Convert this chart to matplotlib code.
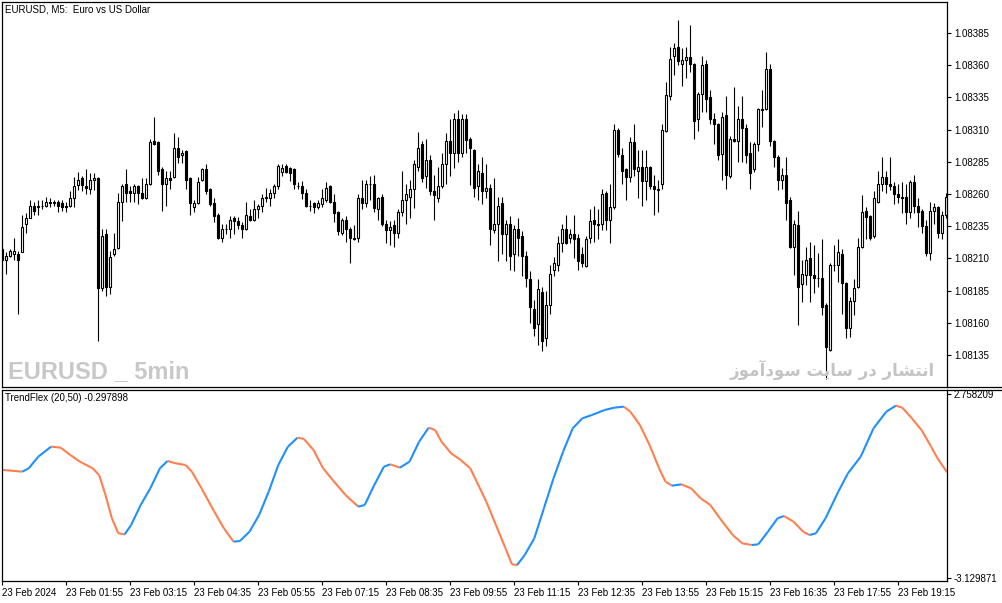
import numpy as np
import matplotlib
matplotlib.use("Agg")
import matplotlib.pyplot as plt
from matplotlib.lines import Line2D
from matplotlib.collections import LineCollection

plt.rcParams['font.family'] = ['Liberation Sans', 'DejaVu Sans']

# EURUSD M5 candles, 23 Feb 2024, prices in points above 1.08000
opens = [217, 209, 212, 213, 213, 215, 237, 241, 251, 250,
         251, 251, 254, 253, 254, 253, 251, 251, 257, 267,
         272, 266, 264, 271, 272, 187, 229, 188, 213, 218,
         254, 268, 262, 261, 266, 261, 257, 268, 301, 300,
         279, 268, 272, 273, 296, 290, 293, 272, 250, 253,
         271, 279, 264, 253, 244, 226, 233, 233, 241, 239,
         236, 233, 243, 240, 248, 251, 258, 257, 261, 266,
         277, 282, 280, 279, 266, 266, 261, 251, 253, 250,
         252, 255, 266, 254, 246, 230, 240, 233, 226, 226,
         257, 253, 268, 268, 248, 258, 237, 232, 236, 230,
         246, 255, 258, 264, 281, 299, 274, 286, 262, 257,
         266, 283, 301, 292, 318, 292, 318, 303, 294, 266,
         276, 262, 265, 232, 237, 253, 229, 237, 213, 233,
         227, 212, 194, 171, 159, 184, 148, 174, 201, 205,
         222, 233, 226, 229, 226, 213, 204, 226, 240, 237,
         237, 261, 240, 250, 310, 290, 279, 273, 300, 278,
         281, 270, 281, 266, 264, 268, 309, 336, 367, 374,
         361, 364, 366, 361, 318, 338, 361, 335, 318, 314,
         291, 321, 274, 303, 301, 318, 311, 292, 279, 299,
         326, 326, 357, 301, 289, 271, 275, 255, 219, 236,
         190, 197, 210, 197, 195, 195, 174, 139, 205, 205,
         213, 191, 156, 177, 188, 219, 247, 243, 227, 254,
         268, 273, 268, 266, 260, 258, 258, 246, 269, 251,
         247, 235, 214, 247, 250, 230, 244]
highs = [219, 215, 217, 226, 216, 244, 245, 255, 254, 255,
         255, 258, 257, 255, 255, 255, 254, 262, 273, 277,
         274, 279, 276, 276, 273, 233, 233, 216, 230, 261,
         268, 279, 266, 268, 267, 272, 272, 303, 320, 301,
         281, 278, 278, 307, 304, 294, 294, 273, 255, 273,
         280, 283, 265, 257, 245, 237, 237, 243, 243, 242,
         238, 254, 248, 255, 252, 260, 265, 264, 268, 283,
         283, 283, 281, 280, 269, 270, 264, 255, 254, 255,
         264, 269, 267, 260, 247, 241, 243, 234, 236, 260,
         271, 271, 274, 275, 258, 260, 240, 239, 240, 248,
         278, 268, 271, 286, 308, 301, 303, 290, 275, 281,
         292, 307, 318, 323, 325, 322, 322, 304, 295, 283,
         289, 283, 268, 272, 258, 258, 240, 243, 236, 241,
         231, 216, 200, 178, 194, 188, 185, 205, 211, 227,
         237, 244, 233, 244, 229, 219, 227, 248, 251, 248,
         264, 262, 268, 314, 311, 296, 280, 304, 314, 294,
         294, 294, 282, 275, 271, 314, 347, 374, 377, 395,
         373, 374, 391, 362, 339, 367, 364, 341, 323, 315,
         324, 336, 305, 343, 328, 336, 314, 300, 300, 327,
         341, 370, 361, 302, 290, 280, 289, 258, 240, 247,
         209, 219, 223, 220, 214, 225, 175, 206, 220, 225,
         217, 192, 180, 194, 226, 259, 250, 244, 262, 278,
         289, 278, 289, 269, 268, 269, 268, 271, 275, 257,
         248, 240, 254, 253, 251, 247, 261]
lows = [208, 198, 211, 209, 167, 215, 230, 241, 244, 244,
        248, 250, 250, 251, 246, 247, 246, 250, 250, 263,
        262, 260, 260, 263, 146, 185, 181, 182, 212, 217,
        239, 254, 254, 254, 252, 256, 256, 267, 298, 275,
        247, 251, 264, 272, 284, 284, 264, 244, 246, 252,
        270, 260, 251, 238, 225, 223, 229, 226, 229, 233,
        226, 232, 239, 239, 241, 246, 254, 251, 257, 264,
        274, 276, 270, 264, 264, 256, 250, 247, 245, 248,
        250, 254, 253, 238, 228, 228, 223, 206, 224, 223,
        248, 250, 255, 246, 240, 235, 222, 220, 219, 226,
        243, 237, 241, 249, 278, 269, 265, 259, 240, 254,
        265, 268, 274, 280, 285, 289, 292, 267, 258, 255,
        252, 257, 220, 230, 208, 213, 208, 201, 200, 212,
        196, 188, 160, 150, 143, 138, 142, 167, 196, 200,
        215, 221, 222, 210, 201, 203, 203, 222, 223, 225,
        232, 232, 222, 248, 289, 268, 255, 269, 274, 257,
        251, 255, 264, 244, 246, 264, 308, 333, 352, 360,
        344, 350, 355, 303, 309, 324, 324, 314, 299, 286,
        271, 264, 272, 300, 285, 285, 284, 264, 277, 293,
        312, 325, 297, 281, 263, 264, 240, 218, 197, 158,
        176, 189, 176, 183, 188, 166, 116, 138, 200, 192,
        167, 148, 149, 166, 187, 218, 225, 224, 226, 253,
        262, 261, 263, 252, 253, 245, 237, 241, 245, 234,
        230, 212, 209, 237, 226, 225, 241]
closes = [209, 212, 216, 216, 209, 234, 241, 251, 247, 251,
          251, 254, 253, 254, 251, 250, 250, 257, 266, 271,
          267, 265, 271, 272, 187, 227, 188, 211, 217, 254,
          266, 261, 261, 266, 261, 257, 268, 300, 299, 278,
          268, 272, 271, 296, 289, 292, 271, 253, 253, 269,
          279, 262, 252, 243, 226, 233, 233, 240, 239, 236,
          233, 244, 240, 248, 251, 257, 257, 261, 266, 282,
          280, 277, 276, 268, 266, 261, 251, 251, 250, 253,
          257, 265, 254, 245, 231, 240, 233, 226, 225, 257,
          253, 268, 268, 249, 257, 237, 232, 234, 230, 246,
          255, 260, 264, 283, 296, 272, 286, 262, 259, 266,
          283, 301, 292, 318, 292, 318, 302, 296, 265, 278,
          262, 265, 233, 237, 251, 229, 237, 212, 233, 226,
          212, 195, 172, 156, 186, 146, 174, 198, 206, 222,
          233, 222, 229, 225, 208, 206, 225, 239, 237, 236,
          260, 240, 250, 310, 291, 278, 273, 300, 279, 281,
          270, 281, 266, 264, 263, 310, 337, 365, 373, 363,
          364, 366, 361, 317, 338, 360, 334, 318, 314, 290,
          320, 275, 303, 301, 318, 311, 290, 276, 299, 326,
          325, 357, 301, 289, 271, 275, 253, 219, 237, 188,
          198, 209, 197, 195, 195, 172, 141, 205, 205, 215,
          191, 156, 177, 187, 219, 246, 242, 226, 257, 268,
          273, 268, 266, 260, 258, 257, 246, 269, 251, 246,
          235, 214, 247, 250, 230, 244, 258]

# TrendFlex (20,50) line: bar number, value
flex_bar = [0.2, 5.0, 6.6, 9.0, 12.2, 14.6, 17.0, 19.4, 22.6, 24.2,
            25.8, 27.4, 29.0, 30.6, 32.2, 34.6, 37.0, 39.4, 41.3, 43.4,
            45.8, 47.4, 49.8, 53.0, 55.4, 57.8, 59.4, 61.8, 64.2, 66.6,
            69.0, 71.4, 73.8, 75.4, 77.8, 80.2, 82.6, 85.8, 89.0, 90.6,
            93.0, 95.4, 97.0, 99.4, 101.8, 104.2, 106.6, 108.2, 109.8, 112.2,
            114.6, 117.0, 118.6, 121.0, 123.4, 125.8, 127.4, 128.7, 130.6, 133.0,
            135.4, 137.8, 140.2, 142.6, 145.0, 147.4, 150.6, 153.0, 155.4, 157.0,
            159.4, 161.8, 164.2, 165.8, 167.4, 169.8, 172.2, 174.6, 177.0, 179.4,
            182.6, 185.0, 187.4, 189.0, 191.4, 193.8, 195.4, 197.8, 200.2, 201.8,
            203.4, 205.8, 209.0, 211.4, 214.6, 217.8, 221.0, 223.4, 225.0, 227.4,
            229.8, 232.2, 233.8, 236.2]
flex_val = [0.326, 0.273, 0.379, 0.753, 1.073, 1.041, 0.806, 0.593, 0.379, 0.166,
            -0.474, -1.221, -1.701, -1.733, -1.434, -0.794, -0.261, 0.379, 0.614, 0.539,
            0.486, 0.273, -0.261, -1.007, -1.541, -1.967, -1.946, -1.647, -1.114, -0.367,
            0.486, 1.073, 1.361, 1.318, 0.966, 0.379, 0.006, -0.474, -0.847, -0.794,
            -0.154, 0.433, 0.507, 0.401, 0.593, 1.233, 1.681, 1.606, 1.233, 0.859,
            0.646, 0.379, -0.047, -0.687, -1.434, -2.181, -2.693, -2.714, -2.394, -1.861,
            -0.901, 0.059, 0.913, 1.659, 1.979, 2.086, 2.246, 2.321, 2.353, 2.193,
            1.766, 1.126, 0.379, -0.047, -0.175, -0.133, -0.261, -0.581, -0.794, -1.221,
            -1.754, -2.021, -2.074, -2.053, -1.647, -1.221, -1.146, -1.327, -1.647, -1.754,
            -1.701, -1.221, -0.367, 0.219, 0.753, 1.659, 2.193, 2.385, 2.321, 1.979,
            1.606, 1.073, 0.699, 0.251]

price_ticks = [1.08135, 1.08160, 1.08185, 1.08210, 1.08235, 1.08260,
               1.08285, 1.08310, 1.08335, 1.08360, 1.08385]
flex_ticks = [2.758209, -3.129871]
time_bars = [0, 16, 32, 48, 64, 80, 96, 112, 128, 144, 160, 176, 192, 208, 224]
time_labels = ["23 Feb 2024", "23 Feb 01:55", "23 Feb 03:15", "23 Feb 04:35",
               "23 Feb 05:55", "23 Feb 07:15", "23 Feb 08:35", "23 Feb 09:55",
               "23 Feb 11:15", "23 Feb 12:35", "23 Feb 13:55", "23 Feb 15:15",
               "23 Feb 16:35", "23 Feb 17:55", "23 Feb 19:15"]

base = 1.08
o = base + np.array(opens) / 1e5
h = base + np.array(highs) / 1e5
l = base + np.array(lows) / 1e5
c = base + np.array(closes) / 1e5
x = np.arange(len(o))

W, H = 1003, 603
fig = plt.figure(figsize=(W / 100, H / 100), dpi=100)


def box(x0, y0, x1, y1):
    # pixel box (from top left) -> figure fraction
    return [x0 / W, 1 - y1 / H, (x1 - x0) / W, (y1 - y0) / H]


ax = fig.add_axes(box(2, 2, 947, 387))
ax2 = fig.add_axes(box(2, 390, 947, 581))

# candles
up = c >= o
ax.vlines(x, l, h, color='black', lw=0.8, zorder=1)
ax.bar(x, c - o, bottom=o, width=0.55, color=np.where(up, 'white', 'black'),
       edgecolor='black', linewidth=0.8, zorder=2)
ax.set_xlim(-0.075, 236.175)
ax.set_ylim(1.081101, 1.0840905)
ax.set_xticks([])
ax.yaxis.tick_right()
ax.set_yticks(price_ticks)
ax.set_yticklabels([f"{p:.5f}" for p in price_ticks])
ax.tick_params(axis='y', direction='out', length=3, width=0.8, pad=2, labelsize=7)

# trendflex, blue when rising, coral when falling
pts = np.column_stack([flex_bar, flex_val])
segs = np.stack([pts[:-1], pts[1:]], axis=1)
cols = ['#1e90ff' if b > a else '#ff7f50' for a, b in zip(flex_val[:-1], flex_val[1:])]
ax2.add_collection(LineCollection(segs, colors=cols, linewidths=1.5))
ax2.set_xlim(-0.075, 236.175)
ax2.set_ylim(-3.226, 2.886)
ax2.yaxis.tick_right()
ax2.set_yticks(flex_ticks)
ax2.set_yticklabels(["2.758209", "-3.129871"])
ax2.set_xticks(time_bars)
ax2.set_xticklabels(time_labels)
for lab in ax2.get_xticklabels():
    lab.set_ha('left')
ax2.tick_params(axis='both', direction='out', length=3, width=0.8, pad=2, labelsize=7)

for a in (ax, ax2):
    for s in a.spines.values():
        s.set_linewidth(0.9)

# separator lines running under the price scale
for yy in (387, 390):
    fig.add_artist(Line2D([947 / W, 1], [1 - yy / H] * 2, color='black', lw=0.9))

fig.text(5 / W, 1 - 10 / H, "EURUSD, M5:  Euro vs US Dollar", fontsize=7, va='center')
fig.text(5 / W, 1 - 398 / H, "TrendFlex (20,50) -0.297898", fontsize=7, va='center')

fig.text(8 / W, 1 - 378 / H, "EURUSD _ 5min", fontsize=17, fontweight='bold',
         color='#c8c8c8', family=['Liberation Sans'], va='baseline')

# "انتشار در سایت سودآموز" in shaped presentation forms, visual order
fa = ("\uFEAF\uFEEE\uFEE3\uFE81\uFEA9\uFEEE\uFEB3 "
      "\uFE96\uFBFE\uFE8E\uFEB3 "
      "\uFEAD\uFEA9 "
      "\uFEAD\uFE8E\uFEB8\uFE98\uFEE7\uFE8D")
fig.text(935 / W, 1 - 376 / H, fa, fontsize=12, fontweight='bold', color='#c4c4c4',
         family=['DejaVu Sans'], ha='right', va='baseline')

fig.savefig("out.png", dpi=100)
